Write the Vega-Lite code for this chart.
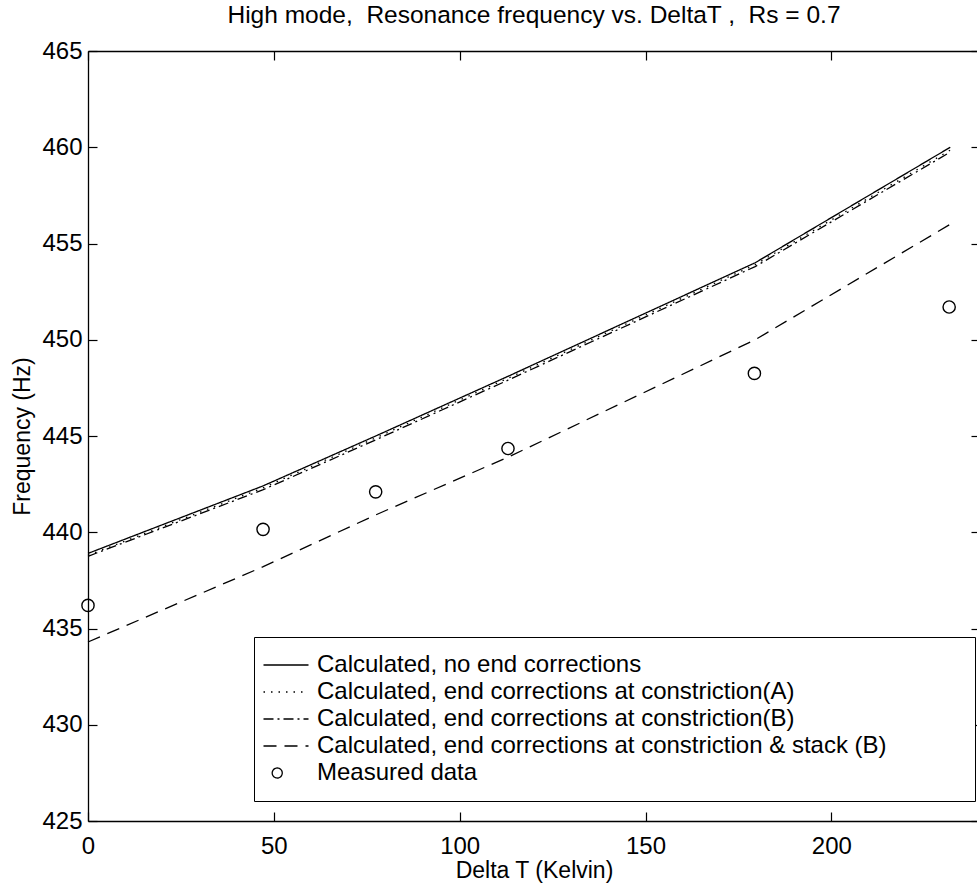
{
  "$schema": "https://vega.github.io/schema/vega-lite/v6.json",
  "width": 892,
  "height": 770,
  "autosize": {"type": "none"},
  "padding": {"left": 88, "top": 51, "right": 0, "bottom": 69},
  "background": "white",
  "title": {
    "text": "High mode,\u00a0 Resonance frequency vs. DeltaT ,\u00a0 Rs = 0.7",
    "fontSize": 24.5,
    "font": "Liberation Sans",
    "fontWeight": "normal",
    "color": "black",
    "anchor": "middle",
    "offset": 11
  },
  "config": {
    "font": "Liberation Sans",
    "view": {"stroke": null},
    "axis": {
      "grid": false,
      "domainColor": "black",
      "domainWidth": 1.3,
      "tickColor": "black",
      "tickWidth": 1.2,
      "tickSize": -9,
      "labelPadding": 15,
      "labelFlush": false,
      "labelColor": "black",
      "labelFontSize": 24,
      "labelFont": "Liberation Sans",
      "titleColor": "black",
      "titleFontSize": 23,
      "titleFont": "Liberation Sans",
      "titleFontWeight": "normal"
    }
  },
  "datasets": {
    "curves": [
      {"series": "Calculated, no end corrections", "deltaT": 0, "frequency": 438.9},
      {"series": "Calculated, no end corrections", "deltaT": 47, "frequency": 442.4},
      {"series": "Calculated, no end corrections", "deltaT": 77.4, "frequency": 445.0},
      {"series": "Calculated, no end corrections", "deltaT": 113, "frequency": 448.1},
      {"series": "Calculated, no end corrections", "deltaT": 179.5, "frequency": 454.0},
      {"series": "Calculated, no end corrections", "deltaT": 232, "frequency": 460.0},
      {"series": "Calculated, end corrections at constriction(A)", "deltaT": 0, "frequency": 438.8},
      {"series": "Calculated, end corrections at constriction(A)", "deltaT": 47, "frequency": 442.3},
      {"series": "Calculated, end corrections at constriction(A)", "deltaT": 77.4, "frequency": 444.9},
      {"series": "Calculated, end corrections at constriction(A)", "deltaT": 113, "frequency": 448.0},
      {"series": "Calculated, end corrections at constriction(A)", "deltaT": 179.5, "frequency": 453.9},
      {"series": "Calculated, end corrections at constriction(A)", "deltaT": 232, "frequency": 459.85},
      {"series": "Calculated, end corrections at constriction(B)", "deltaT": 0, "frequency": 438.75},
      {"series": "Calculated, end corrections at constriction(B)", "deltaT": 47, "frequency": 442.2},
      {"series": "Calculated, end corrections at constriction(B)", "deltaT": 77.4, "frequency": 444.8},
      {"series": "Calculated, end corrections at constriction(B)", "deltaT": 113, "frequency": 447.9},
      {"series": "Calculated, end corrections at constriction(B)", "deltaT": 179.5, "frequency": 453.8},
      {"series": "Calculated, end corrections at constriction(B)", "deltaT": 232, "frequency": 459.75},
      {"series": "Calculated, end corrections at constriction & stack (B)", "deltaT": 0, "frequency": 434.3},
      {"series": "Calculated, end corrections at constriction & stack (B)", "deltaT": 47, "frequency": 438.2},
      {"series": "Calculated, end corrections at constriction & stack (B)", "deltaT": 77.4, "frequency": 440.9},
      {"series": "Calculated, end corrections at constriction & stack (B)", "deltaT": 113, "frequency": 443.9},
      {"series": "Calculated, end corrections at constriction & stack (B)", "deltaT": 179.5, "frequency": 450.0},
      {"series": "Calculated, end corrections at constriction & stack (B)", "deltaT": 232, "frequency": 456.0}
    ],
    "measured": [
      {"series": "Measured data", "deltaT": 0, "frequency": 436.2},
      {"series": "Measured data", "deltaT": 47.1, "frequency": 440.15},
      {"series": "Measured data", "deltaT": 77.4, "frequency": 442.1},
      {"series": "Measured data", "deltaT": 113, "frequency": 444.35},
      {"series": "Measured data", "deltaT": 179.3, "frequency": 448.25},
      {"series": "Measured data", "deltaT": 231.7, "frequency": 451.7}
    ]
  },
  "layer": [
    {
      "data": {"name": "curves"},
      "mark": {"type": "line", "strokeWidth": 1.3, "color": "black", "strokeCap": "butt"},
      "encoding": {
        "x": {
          "field": "deltaT",
          "type": "quantitative",
          "scale": {"domain": [0, 240], "nice": false, "zero": false},
          "axis": {"title": "Delta T (Kelvin)", "values": [0, 50, 100, 150, 200], "labelPadding": 22, "titlePadding": 1}
        },
        "y": {
          "field": "frequency",
          "type": "quantitative",
          "scale": {"domain": [425, 465], "nice": false, "zero": false},
          "axis": {"title": "Frequency (Hz)", "values": [425, 430, 435, 440, 445, 450, 455, 460, 465], "titlePadding": 7}
        },
        "strokeDash": {
          "field": "series",
          "type": "nominal",
          "scale": {
            "domain": [
              "Calculated, no end corrections",
              "Calculated, end corrections at constriction(A)",
              "Calculated, end corrections at constriction(B)",
              "Calculated, end corrections at constriction & stack (B)",
              "Measured data"
            ],
            "range": [[1, 0], [1.5, 6], [10, 4, 2, 4], [13, 8], [1, 0]]
          },
          "legend": {
            "title": null,
            "orient": "none",
            "legendX": 166,
            "legendY": 586,
            "direction": "vertical",
            "strokeColor": "black",
            "fillColor": "white",
            "padding": 16,
            "rowPadding": 3,
            "labelFont": "Liberation Sans",
            "labelFontSize": 24,
            "labelColor": "black",
            "labelLimit": 0,
            "labelExpr": "datum.label + '\u2800\u2800\u2800\u2800'",
            "symbolSize": 225,
            "symbolStrokeColor": "black",
            "symbolStrokeWidth": 1.3,
            "symbolOffset": 4,
            "labelOffset": 19,
            "encode": {
              "symbols": {
                "update": {
                  "shape": {"signal": "datum.value === 'Measured data' ? 'M-1.84,0A0.667,0.667 0 1,0 -0.5,0A0.667,0.667 0 1,0 -1.84,0Z' : 'M-3,0H3'"},
                  "fill": {"value": "transparent"},
                  "stroke": {"value": "black"}
                }
              }
            }
          }
        }
      }
    },
    {
      "data": {"name": "measured"},
      "mark": {"type": "point", "shape": "circle", "filled": false, "size": 150, "stroke": "black", "strokeWidth": 1.4, "opacity": 1},
      "encoding": {
        "x": {
          "field": "deltaT",
          "type": "quantitative",
          "axis": {"orient": "top", "labels": false, "title": null, "values": [0, 50, 100, 150, 200]}
        },
        "y": {
          "field": "frequency",
          "type": "quantitative",
          "axis": {"orient": "right", "labels": false, "title": null, "values": [425, 430, 435, 440, 445, 450, 455, 460, 465]}
        }
      }
    }
  ],
  "resolve": {"axis": {"x": "independent", "y": "independent"}}
}
